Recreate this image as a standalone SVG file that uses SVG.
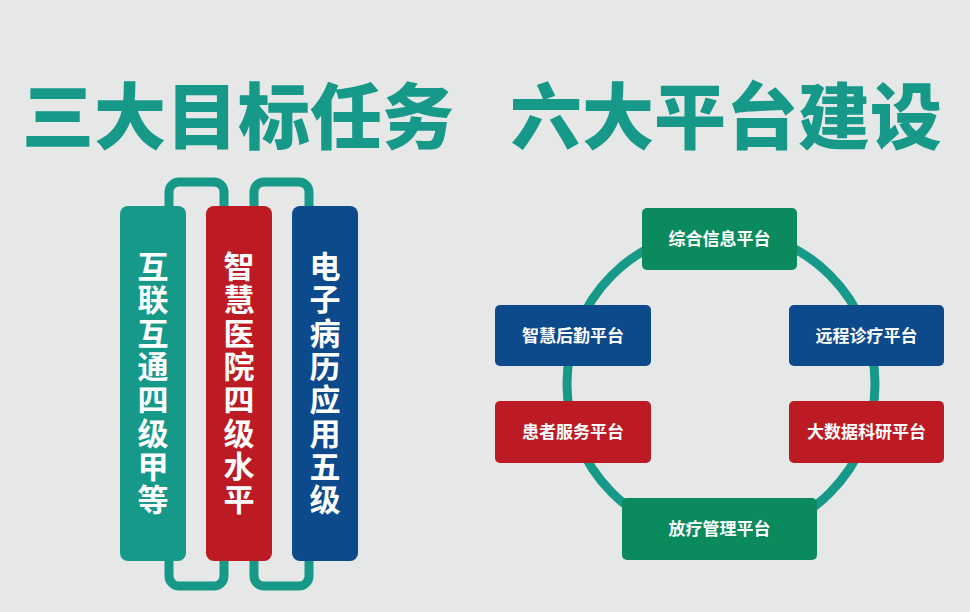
<svg xmlns="http://www.w3.org/2000/svg" width="970" height="612" viewBox="0 0 970 612">
<style>
.t{font-family:"Noto Sans CJK SC",sans-serif;font-weight:bold;fill:#fff;text-anchor:middle}
.title{font-family:"Noto Sans CJK SC",sans-serif;font-weight:900;fill:#17998a;font-size:72px}
.col{font-size:31px}
.bx{font-size:17px}
.ln{fill:none;stroke:#17998a;stroke-width:9}
</style>
<rect width="970" height="612" fill="#e6e7e7"/>
<text class="title" x="22" y="143">三大目标任务</text>
<text class="title" x="510" y="143">六大平台建设</text>
<g id="connectors">
<path class="ln" d="M169 210 V192 a10 10 0 0 1 10 -10 H214 a10 10 0 0 1 10 10 V210"/>
<path class="ln" d="M254 210 V192 a10 10 0 0 1 10 -10 H299 a10 10 0 0 1 10 10 V210"/>
<path class="ln" d="M169 558 V576 a10 10 0 0 0 10 10 H214 a10 10 0 0 0 10 -10 V558"/>
<path class="ln" d="M254 558 V576 a10 10 0 0 0 10 10 H299 a10 10 0 0 0 10 -10 V558"/>
<circle class="ln" cx="721" cy="384" r="154" stroke-width="10"/>
</g>
<g id="col1"><rect x="120" y="206" width="66" height="355" rx="8" fill="#17998a"/>
<text class="t col" x="153"><tspan x="153" y="278">互</tspan><tspan x="153" dy="33.3">联</tspan><tspan x="153" dy="33.3">互</tspan><tspan x="153" dy="33.3">通</tspan><tspan x="153" dy="33.3">四</tspan><tspan x="153" dy="33.3">级</tspan><tspan x="153" dy="33.3">甲</tspan><tspan x="153" dy="33.3">等</tspan></text></g>
<g id="col2"><rect x="206" y="206" width="66" height="355" rx="8" fill="#bd1b24"/>
<text class="t col" x="239"><tspan x="239" y="278">智</tspan><tspan x="239" dy="33.3">慧</tspan><tspan x="239" dy="33.3">医</tspan><tspan x="239" dy="33.3">院</tspan><tspan x="239" dy="33.3">四</tspan><tspan x="239" dy="33.3">级</tspan><tspan x="239" dy="33.3">水</tspan><tspan x="239" dy="33.3">平</tspan></text></g>
<g id="col3"><rect x="292" y="206" width="66" height="355" rx="8" fill="#0c4a8c"/>
<text class="t col" x="325"><tspan x="325" y="278">电</tspan><tspan x="325" dy="33.3">子</tspan><tspan x="325" dy="33.3">病</tspan><tspan x="325" dy="33.3">历</tspan><tspan x="325" dy="33.3">应</tspan><tspan x="325" dy="33.3">用</tspan><tspan x="325" dy="33.3">五</tspan><tspan x="325" dy="33.3">级</tspan></text></g>
<g id="p1"><rect x="642" y="208" width="155" height="62" rx="5" fill="#0b8a5e"/><text class="t bx" x="719.5" y="245">综合信息平台</text></g>
<g id="p2"><rect x="495" y="305" width="156" height="61" rx="5" fill="#0c4a8c"/><text class="t bx" x="573" y="342">智慧后勤平台</text></g>
<g id="p3"><rect x="789" y="305" width="155" height="61" rx="5" fill="#0c4a8c"/><text class="t bx" x="866.5" y="342">远程诊疗平台</text></g>
<g id="p4"><rect x="495" y="401" width="156" height="62" rx="5" fill="#bd1b24"/><text class="t bx" x="573" y="438">患者服务平台</text></g>
<g id="p5"><rect x="789" y="401" width="155" height="62" rx="5" fill="#bd1b24"/><text class="t bx" x="866.5" y="438">大数据科研平台</text></g>
<g id="p6"><rect x="622" y="498" width="195" height="62" rx="5" fill="#0b8a5e"/><text class="t bx" x="719.5" y="535">放疗管理平台</text></g>
</svg>
